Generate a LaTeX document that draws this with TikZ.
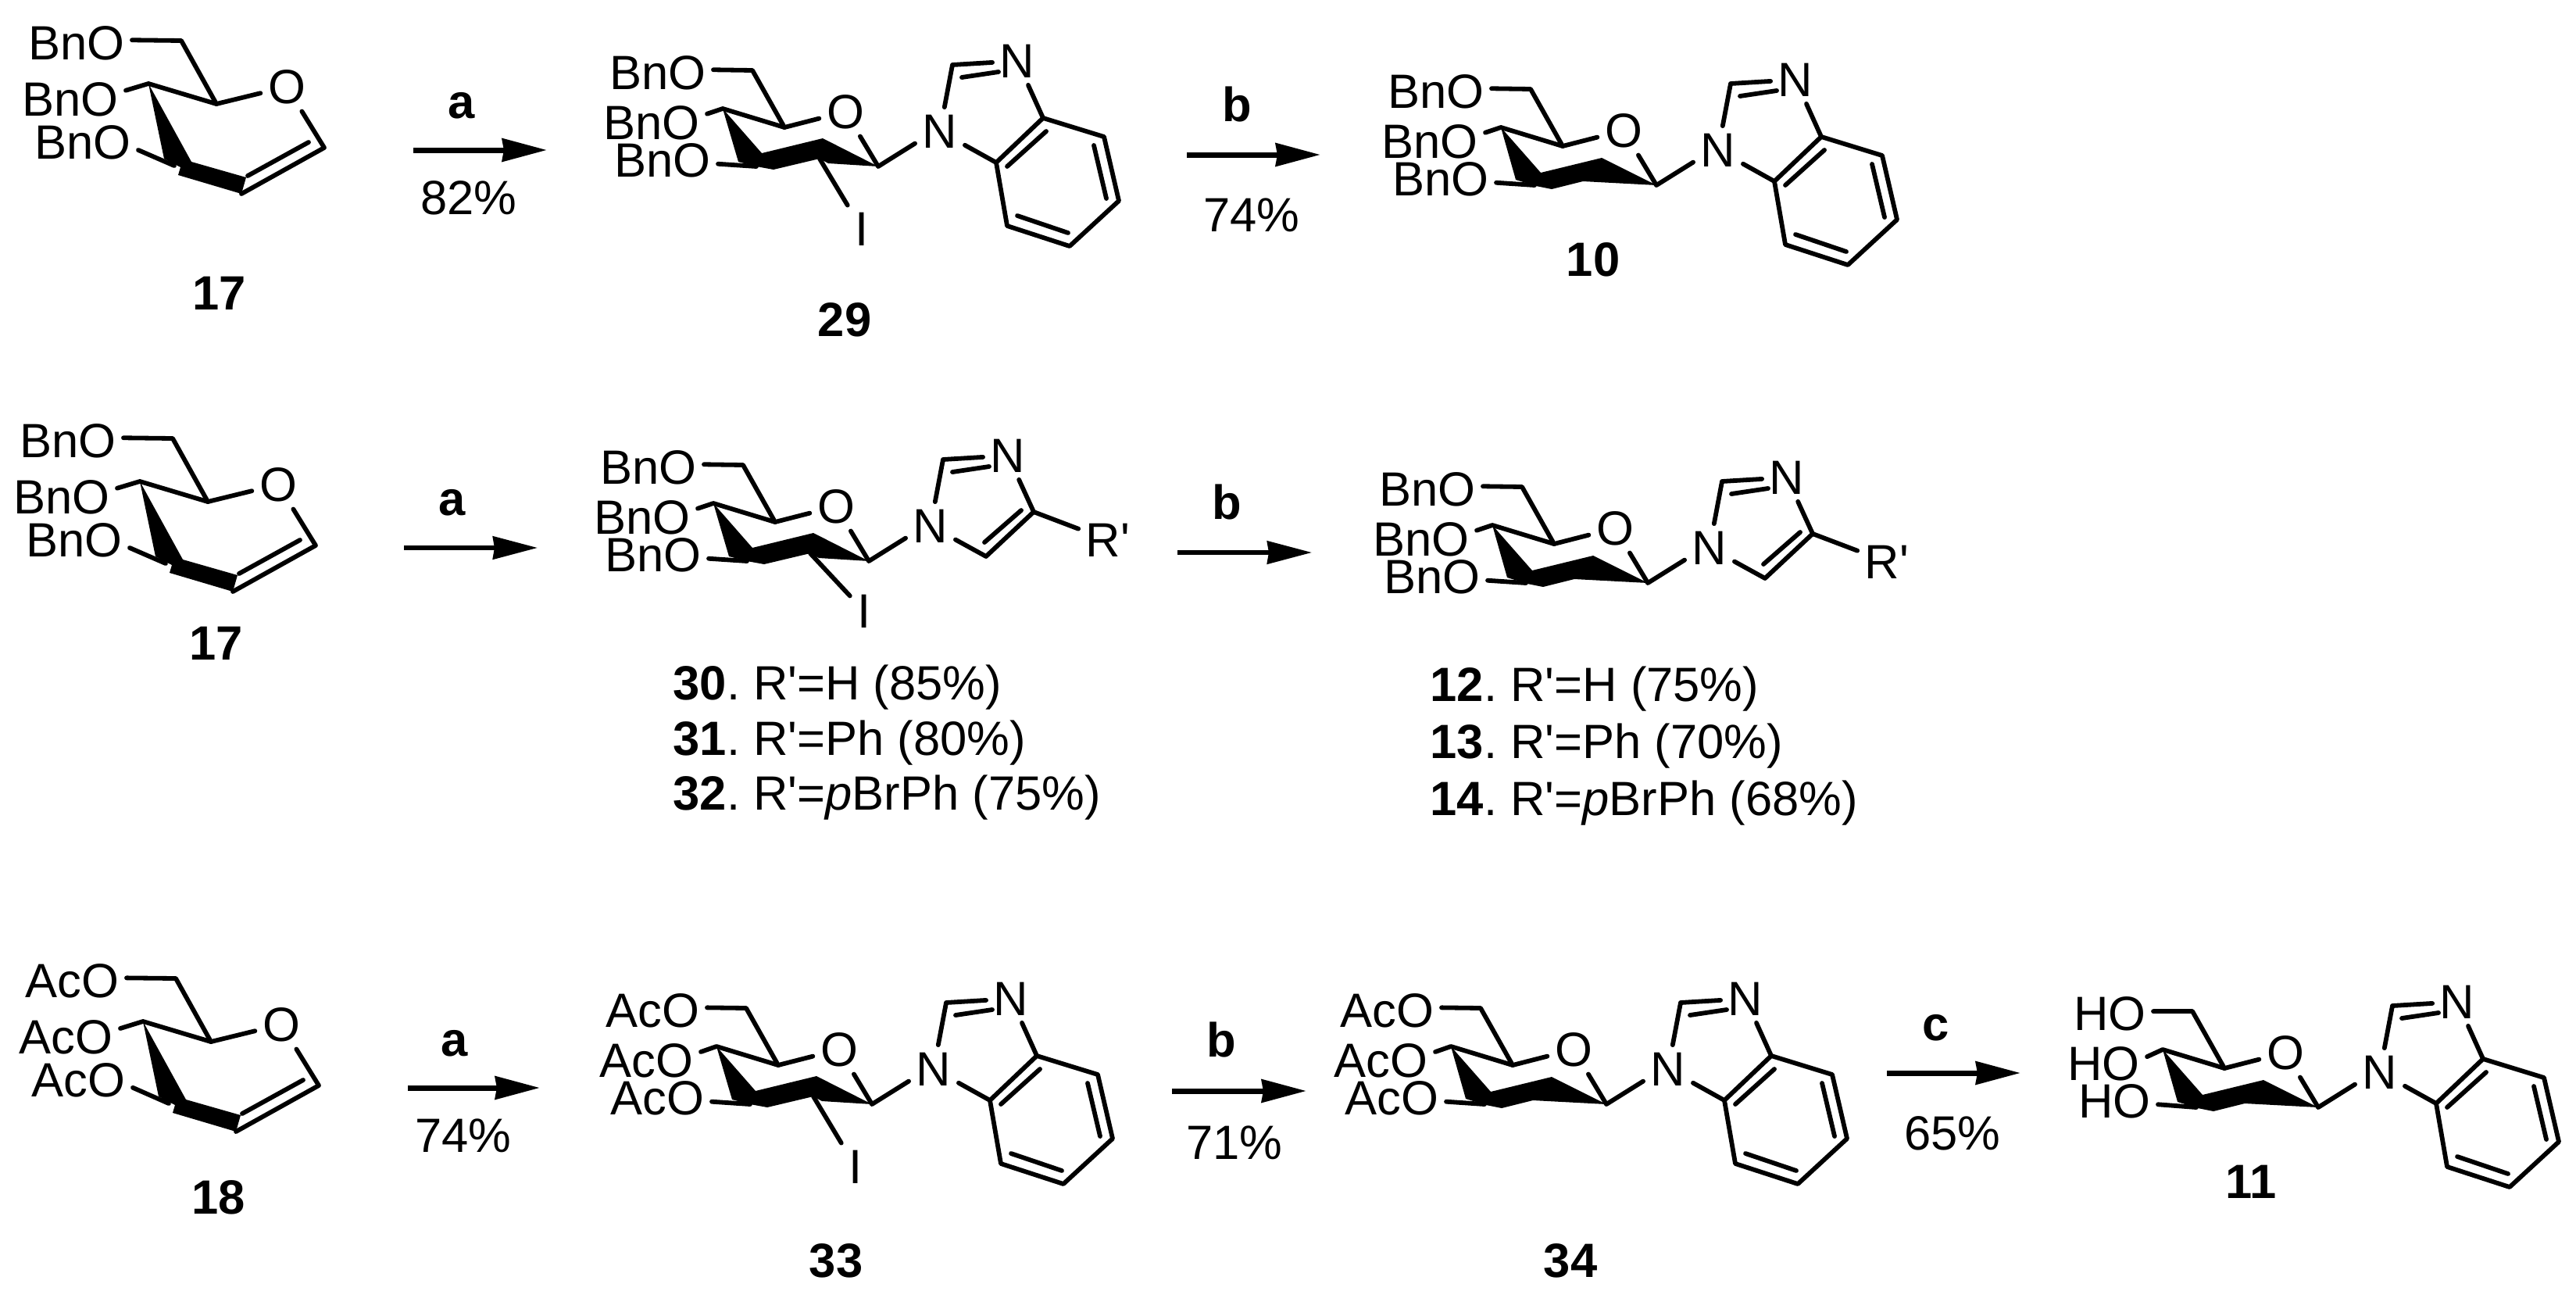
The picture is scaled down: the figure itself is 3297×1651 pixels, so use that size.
\documentclass[tikz,border=0pt]{standalone}
\usepackage{fontspec}
\setmainfont{Liberation Sans}[Ligatures=TeXOff]
\usetikzlibrary{arrows.meta}
\tikzset{
	bond/.style={line width=0.058cm,line cap=round,line join=round},
	rxn/.style={line width=0.07cm,-{Stealth[length=0.57cm,width=0.29cm,inset=0.02cm]}},
	rxnthin/.style={rxn,line width=0.055cm},
	atomlab/.style={inner sep=0.09cm},
	grplab/.style={inner sep=0.09cm,anchor=east},
	cmpd/.style={inner sep=0pt,font=\fontsize{17.5}{21}\selectfont\bfseries},
	reag/.style={cmpd},
	pct/.style={inner sep=0pt},
	entry/.style={inner sep=0pt,anchor=base west}
}
\newcommand{\glycal}[1]{
	\coordinate (c1) at (415,189);
	\coordinate (c2) at (309,248);
	\coordinate (c3) at (223,212);
	\coordinate (c4) at (190,107);
	\coordinate (c5) at (277,133);
	\coordinate (c6) at (232,52);
	\coordinate (d1) at (395,182);
	\coordinate (d2) at (317,225);
	\node[atomlab] (o5) at (367,111) {O};
	\node[grplab] (g6) at (169,55) {#1};
	\node[grplab] (g4) at (161,127) {#1};
	\node[grplab] (g3) at (177,182) {#1};
	\fill (c4) -- (245,207) -- (315,227) -- (c2) -- (228,224) -- (231,214) -- (210,203) -- cycle;
	\draw[bond] (g6.3) -- (c6) -- (c5) -- (o5);
	\draw[bond] (g4.9) -- (c4) -- (c5);
	\draw[bond] (g3.-8) -- (c3);
	\draw[bond] (o5) -- (c1) -- (c2);
	\draw[bond] (d1) -- (d2);
}
\newcommand{\pyranose}[1]{
	\coordinate (c1) at (1124,213);
	\coordinate (c3) at (968,213);
	\coordinate (c4) at (925,139);
	\coordinate (c5) at (1004,163);
	\coordinate (c6) at (963,90);
	\node[atomlab] (o5) at (1082,143) {O};
	\node[grplab] (g6) at (913,93) {#1};
	\node[grplab] (g4) at (905,157) {#1};
	\node[grplab] (g3) at (919,205) {#1};
	\node[atomlab] (n1) at (1203,168) {N};
	\node[atomlab] (n3) at (1302,78) {N};
	\coordinate (ch) at (1219,83);
	\coordinate (d1) at (1231,99);
	\coordinate (d2) at (1278,92);
	\draw[bond] (g6.3) -- (c6) -- (c5) -- (o5);
	\draw[bond] (g4.9) -- (c4) -- (c5);
	\draw[bond] (g3) -- (c3);
	\draw[bond] (o5) -- (c1) -- (n1.206);
	\draw[bond] (n1) -- (ch) -- (n3);
	\draw[bond] (d1) -- (d2);
}
\newcommand{\ribboniodo}[1]{
	\coordinate (c2) at (1049,203);
	\fill (c4) -- (975,196) -- (1053,177) -- (c1) -- (1060,209) -- (c2) -- (990,217) -- (968,213) -- (945,207) -- cycle;
	\node[atomlab] (i2) at #1 {I};
	\draw[bond] (c2) -- (i2);
}
\newcommand{\ribbondeoxy}{
	\fill (c4) -- (976,197) -- (1054,178) -- (c1) -- (1030,208) -- (990,218) -- (970,214) -- (944,206) -- cycle;
}
\newcommand{\benzo}{
	\coordinate (a3) at (1335,151);
	\coordinate (a4) at (1413,175);
	\coordinate (a5) at (1432,257);
	\coordinate (a6) at (1369,315);
	\coordinate (a7) at (1289,289);
	\coordinate (a8) at (1275,208);
	\coordinate (e1) at (1289,213);
	\coordinate (e2) at (1339,168);
	\coordinate (e3) at (1400,186);
	\coordinate (e4) at (1416,254);
	\coordinate (e5) at (1302,276);
	\coordinate (e6) at (1367,298);
	\draw[bond] (a3) -- (a4) -- (a5) -- (a6) -- (a7) -- (a8) -- cycle;
	\draw[bond] (n3) -- (a3);
	\draw[bond] (a8) -- (n1);
	\draw[bond] (e1) -- (e2);
	\draw[bond] (e3) -- (e4);
	\draw[bond] (e5) -- (e6);
}
\newcommand{\imidazole}{
	\coordinate (a3) at (1335,150);
	\coordinate (a8) at (1274,207);
	\coordinate (e1) at (1272,189);
	\coordinate (e2) at (1319,148);
	\node[atomlab] (r4) at (1430,186) {R'};
	\draw[bond] (n3) -- (a3) -- (a8) -- (n1);
	\draw[bond] (a3) -- (r4);
	\draw[bond] (e1) -- (e2);
}
\frenchspacing
\begin{document}
\begin{tikzpicture}[x=0.01cm,y=-0.01cm,every node/.style={font=\fontsize{17.5}{21}\selectfont}]
	\useasboundingbox (0,0) rectangle (3297,1651);
	\begin{scope}[name prefix=m17-]
		\glycal{BnO}
	\end{scope}
	\node[cmpd] (l17) at (281,375) {17};
	\coordinate (r1s) at (529,192);
	\coordinate (r1e) at (700,192);
	\draw[rxn] (r1s) -- (r1e);
	\node[reag] (r1a) at (591,135) {a};
	\node[pct] (r1p) at (600,253) {82\%};
	\begin{scope}[name prefix=m29-]
		\pyranose{BnO}
		\ribboniodo{(1103,293)}
		\benzo
	\end{scope}
	\node[cmpd] (l29) at (1081,409) {29};
	\coordinate (r2s) at (1519,198);
	\coordinate (r2e) at (1690,198);
	\draw[rxn] (r2s) -- (r2e);
	\node[reag] (r2b) at (1583,133) {b};
	\node[pct] (r2p) at (1602,275) {74\%};
	\begin{scope}[shift={(996,24)},name prefix=m10-]
		\pyranose{BnO}
		\ribbondeoxy
		\benzo
	\end{scope}
	\node[cmpd] (l10) at (2039,332) {10};

	\begin{scope}[shift={(-11,509)},name prefix=n17-]
		\glycal{BnO}
	\end{scope}
	\node[cmpd] (k17) at (277,823) {17};
	\coordinate (r3s) at (517,701);
	\coordinate (r3e) at (688,701);
	\draw[rxnthin] (r3s) -- (r3e);
	\node[reag] (r3a) at (579,643) {a};
	\begin{scope}[shift={(-12,505)},name prefix=m30-]
		\pyranose{BnO}
		\ribboniodo{(1118,277)}
		\imidazole
	\end{scope}
	\node[entry] (l30) at (861,895) {\textbf{30}. R'=H (85\%)};
	\node[entry] (l31) at (861,966) {\textbf{31}. R'=Ph (80\%)};
	\node[entry] (l32) at (861,1036) {\textbf{32}. R'=\textit{p}BrPh (75\%)};
	\coordinate (r4s) at (1507,707);
	\coordinate (r4e) at (1679,707);
	\draw[rxnthin] (r4s) -- (r4e);
	\node[reag] (r4b) at (1570,642) {b};
	\begin{scope}[shift={(985,533)},name prefix=m12-]
		\pyranose{BnO}
		\ribbondeoxy
		\imidazole
	\end{scope}
	\node[entry] (l12) at (1830,897) {\textbf{12}. R'=H (75\%)};
	\node[entry] (l13) at (1830,970) {\textbf{13}. R'=Ph (70\%)};
	\node[entry] (l14) at (1830,1043) {\textbf{14}. R'=\textit{p}BrPh (68\%)};

	\begin{scope}[shift={(-7,1200)},name prefix=m18-]
		\glycal{AcO}
	\end{scope}
	\node[cmpd] (l18) at (280,1532) {18};
	\coordinate (r5s) at (522,1392);
	\coordinate (r5e) at (691,1392);
	\draw[rxn] (r5s) -- (r5e);
	\node[reag] (r5a) at (582,1335) {a};
	\node[pct] (r5p) at (593,1453) {74\%};
	\begin{scope}[shift={(-8,1200)},name prefix=m33-]
		\pyranose{AcO}
		\ribboniodo{(1103,293)}
		\benzo
	\end{scope}
	\node[cmpd] (l33) at (1070,1613) {33};
	\coordinate (r6s) at (1500,1396);
	\coordinate (r6e) at (1672,1396);
	\draw[rxn] (r6s) -- (r6e);
	\node[reag] (r6b) at (1563,1330) {b};
	\node[pct] (r6p) at (1580,1462) {71\%};
	\begin{scope}[shift={(932,1200)},name prefix=m34-]
		\pyranose{AcO}
		\ribbondeoxy
		\benzo
	\end{scope}
	\node[cmpd] (l34) at (2010,1613) {34};
	\coordinate (r7s) at (2415,1373);
	\coordinate (r7e) at (2586,1373);
	\draw[rxn] (r7s) -- (r7e);
	\node[reag] (r7c) at (2478,1315) {c};
	\node[pct] (r7p) at (2499,1450) {65\%};
	\begin{scope}[shift={(1843,1204)},name prefix=m11-]
		\pyranose{HO}
		\ribbondeoxy
		\benzo
	\end{scope}
	\node[cmpd] (l11) at (2881,1512) {11};
\end{tikzpicture}
\end{document}
